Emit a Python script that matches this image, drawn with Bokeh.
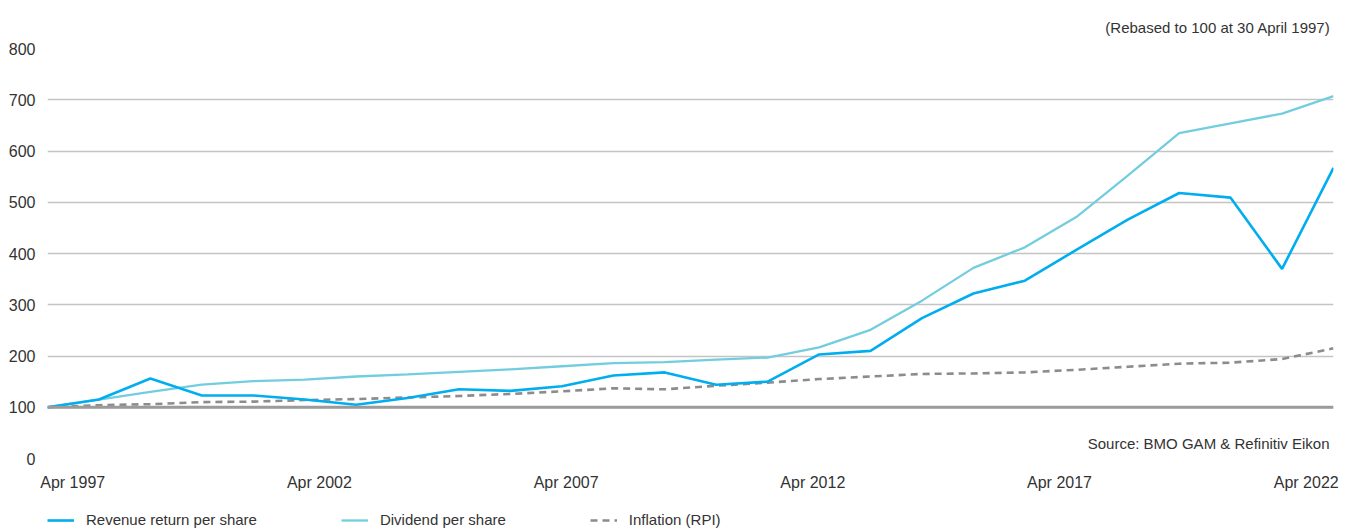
from bokeh.plotting import figure
from bokeh.layouts import column
from bokeh.models import (Range1d, FixedTicker, CustomJSTickFormatter, Span, Label,
                          Legend, LegendItem, Title)
from bokeh.embed import file_html
from bokeh.resources import INLINE
import numpy as np

# ---- data ----
years = [1997, 1998, 1999, 2000, 2001, 2002, 2003, 2004, 2005, 2006, 2007, 2008, 2009,
         2010, 2011, 2012, 2013, 2014, 2015, 2016, 2017, 2018, 2019, 2020, 2021, 2022]
revenue = [100, 115, 156, 123, 123, 115, 105, 118, 135, 132, 141, 162, 168,
           144, 150, 203, 210, 274, 322, 347, 407, 466, 518, 509, 370, 567]
dividend = [100, 115, 130, 144, 151, 154, 160, 164, 169, 174, 180, 186, 188,
            193, 197, 217, 251, 308, 372, 412, 471, 552, 635, 654, 673, 707]
inflation = [100, 104, 106, 110, 111, 114, 116, 119, 122, 126, 131, 137, 135,
             142, 148, 155, 160, 165, 166, 168, 173, 179, 185, 187, 194, 215]
x_tick_labels = ["Apr 1997", "Apr 2002", "Apr 2007", "Apr 2012", "Apr 2017", "Apr 2022"]
y_ticks = [0, 100, 200, 300, 400, 500, 600, 700, 800]
series_names = ["Revenue return per share", "Dividend per share", "Inflation (RPI)"]

FONT = "Liberation Sans"
TXT = "#333333"
STYLES = [dict(line_color="#00aeef", line_width=2.6),
          dict(line_color="#72cede", line_width=2.3),
          dict(line_color="#8c8c8c", line_width=2.6, line_dash="7 5")]

p = figure(width=1354, height=500, output_backend="svg", toolbar_location=None,
           x_range=Range1d(years[0], years[-1]), y_range=Range1d(0, 800),
           min_border_left=47, min_border_right=21, min_border_top=48, min_border_bottom=42)
p.outline_line_color = None
p.background_fill_color = "white"
p.border_fill_color = "white"

p.add_layout(Title(text="(Rebased to 100 at 30 April 1997)", align="right",
                   text_font=FONT, text_font_size="15px", text_font_style="normal",
                   text_color=TXT, standoff=26, offset=3), "above")

# grid
p.xgrid.visible = False
p.ygrid.ticker = FixedTicker(ticks=y_ticks)
p.ygrid.grid_line_color = "#c4c4c4"
p.ygrid.grid_line_width = 1.3

# y axis
p.yaxis.ticker = FixedTicker(ticks=y_ticks)
p.yaxis.axis_line_color = None
p.yaxis.major_tick_line_color = None
p.yaxis.minor_tick_line_color = None
p.yaxis.major_tick_out = 0
p.yaxis.major_label_standoff = 12
p.yaxis.major_label_text_font = FONT
p.yaxis.major_label_text_font_size = "16px"
p.yaxis.major_label_text_color = TXT

# x axis: labels evenly spread between first and last label centre
label_pos = list(np.linspace(years[0] + 0.49, years[-1] - 0.53, len(x_tick_labels)))
p.xaxis.ticker = FixedTicker(ticks=label_pos)
p.xaxis.formatter = CustomJSTickFormatter(args=dict(labels=x_tick_labels),
                                          code="return labels[index];")
p.xaxis.axis_line_color = None
p.xaxis.major_tick_line_color = None
p.xaxis.minor_tick_line_color = None
p.xaxis.major_tick_out = 0
p.xaxis.major_label_standoff = 15
p.xaxis.major_label_text_font = FONT
p.xaxis.major_label_text_font_size = "16px"
p.xaxis.major_label_text_color = TXT

# rebased line at 100
p.add_layout(Span(location=100, dimension="width", line_color="#9b9b9b", line_width=3))

p.line(years, inflation, **STYLES[2])
p.line(years, dividend, **STYLES[1])
p.line(years, revenue, **STYLES[0])

p.add_layout(Label(x=1282, y=15, x_units="screen", y_units="screen",
                   text="Source: BMO GAM & Refinitiv Eikon", text_align="right",
                   text_baseline="middle", text_font=FONT, text_font_size="15px",
                   text_color=TXT))

# ---- legend strip below the chart ----
pl = figure(width=1354, height=32, output_backend="svg", toolbar_location=None,
            x_range=Range1d(0, 1), y_range=Range1d(0, 1),
            min_border_left=0, min_border_right=0, min_border_top=0, min_border_bottom=0)
pl.axis.visible = False
pl.grid.visible = False
pl.outline_line_color = None
pl.border_fill_color = "white"
# legend-only renderers: their points lie outside the strip's visible range
rends = [pl.line([-5, -4], [-5, -4], **s) for s in STYLES]
legend = Legend(items=[LegendItem(label=n, renderers=[r]) for n, r in zip(series_names, rends)],
                orientation="horizontal", location=(0, 4),
                spacing=84, glyph_width=27, glyph_height=16, label_height=16,
                label_standoff=12, padding=0, margin=0,
                border_line_alpha=0, background_fill_alpha=0,
                label_text_font=FONT, label_text_font_size="15px",
                label_text_color=TXT)
pl.add_layout(legend)

layout = column(p, pl, spacing=0)
open("out.html", "w").write(file_html(layout, INLINE))
